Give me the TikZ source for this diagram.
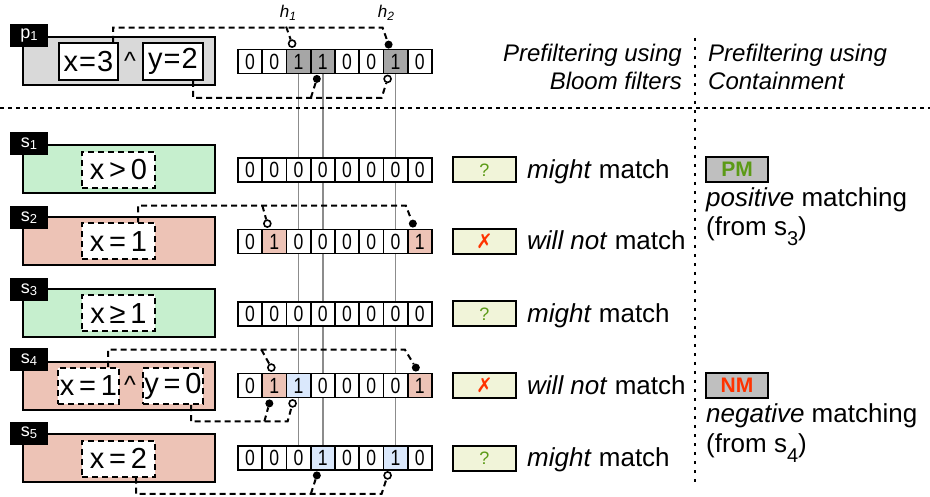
\documentclass[tikz,border=0pt]{standalone}
\usepackage{fontspec}
\setmainfont{Liberation Sans}
\newfontfamily\symbolfont{DejaVu Sans}
\usetikzlibrary{calc}
\pgfdeclarelayer{background}
\pgfsetlayers{background,main}

\definecolor{boxgreen}{HTML}{C6EFCE}
\definecolor{boxpink}{HTML}{EDC3B6}
\definecolor{boxgray}{HTML}{D9D9D9}
\definecolor{bitgray}{HTML}{A6A6A6}
\definecolor{bitblue}{HTML}{DAE8FC}
\definecolor{badgefill}{HTML}{F1F4D9}
\definecolor{statefill}{HTML}{BFBFBF}
\definecolor{okgreen}{HTML}{5B9A16}
\definecolor{nored}{HTML}{FF3300}
\definecolor{guide}{HTML}{8C8C8C}

\newcommand{\setsize}[1]{\fontsize{#1}{#1}\selectfont}
\newcommand{\tagsub}[1]{\raisebox{-2pt}{\setsize{13}#1}}
\newcommand{\txtsub}[1]{\raisebox{-10pt}{\setsize{20}#1}}
\newcommand{\hsub}[1]{\raisebox{-3pt}{\setsize{12}\itshape #1}}
\newcommand{\bitdigit}[1]{\scalebox{0.8}[1]{#1}}
\newcommand{\nomatch}{\textcolor{nored}{\symbolfont\setsize{20}✗}}

% one row of eight Bloom-filter bits: name, centre y, list of value/fill
\newcommand{\bitrow}[3]{%
  \foreach \v/\c [count=\i from 0] in {#3}
    \node[bit, fill=\c] (#1-\i) at ({250.125+24.25*\i}, #2) {\bitdigit{\v}};
}

\begin{document}
\begin{tikzpicture}[x=1pt, y=-1pt,
  mainbox/.style={draw, line width=2pt, minimum width=192pt, minimum height=48pt, inner sep=0pt},
  tagbox/.style={fill=black, text=white, minimum width=38pt, minimum height=23pt, inner sep=0pt, font=\setsize{18}},
  predsolid/.style={draw, line width=2pt, fill=white, minimum height=37pt, inner sep=0pt, font=\setsize{29}},
  pred/.style={draw, line width=2pt, dash pattern=on 6pt off 4pt, fill=white, minimum height=36pt, inner sep=0pt, font=\setsize{29}},
  andsym/.style={font=\setsize{25}, inner sep=0pt},
  bit/.style={draw, line width=1.8pt, minimum width=24.25pt, minimum height=24pt, inner sep=0pt, font=\setsize{22}},
  badge/.style={draw, line width=2pt, fill=badgefill, minimum width=63pt, minimum height=25pt, inner sep=0pt, font=\setsize{18}},
  state/.style={draw, line width=2pt, fill=statefill, minimum width=62pt, minimum height=25pt, inner sep=0pt, font=\setsize{21}\bfseries},
  result/.style={anchor=base west, inner sep=0pt, font=\setsize{26}},
  header/.style={inner sep=0pt, font=\setsize{24}\itshape},
  conn/.style={draw, line width=2pt, dash pattern=on 6pt off 4pt},
  hollow/.style={circle, draw, line width=1.6pt, fill=white, minimum size=7pt, inner sep=0pt},
  solid dot/.style={circle, fill=black, minimum size=8pt, inner sep=0pt},
  hashline/.style={draw=guide, line width=1.5pt},
  sep/.style={line width=2pt, dash pattern=on 4pt off 4pt},
  vsep/.style={line width=2.5pt, dash pattern=on 3pt off 6pt}
]
\useasboundingbox (0,0) rectangle (930,497);

% separators
\draw[sep] (0,108) -- (930,108);
\draw[vsep] (695,38) -- (695,484);

% column headings
\node[header, anchor=base east] (hb1) at (682,62) {Prefiltering using};
\node[header, anchor=base east] (hb2) at (682,90) {Bloom filters};
\node[header, anchor=base west] (hc1) at (708,62) {Prefiltering using};
\node[header, anchor=base west] (hc2) at (708,90) {Containment};

% ---------- publication p1 ----------
\node[mainbox, fill=boxgray] (P) at (119,61.5) {};
\node[tagbox] (Ptag) at (29,35.5) {p\tagsub{1}};
\node[predsolid, minimum width=59pt] (Px) at (88.5,61.5) {x\kern1pt=\kern1pt3};
\node[andsym] (Pand) at (130,61) {\textasciicircum};
\node[predsolid, minimum width=60pt] (Py) at (173,61.5) {y\kern1pt=\kern1pt2};
\bitrow{B}{61.5}{0/white,0/white,1/bitgray,1/bitgray,0/white,0/white,1/bitgray,0/white}
\node[inner sep=0pt, font=\setsize{17}\itshape] (h1) at (288,13) {h\hsub{1}};
\node[inner sep=0pt, font=\setsize{17}\itshape] (h2) at (386,13) {h\hsub{2}};

% ---------- subscriptions ----------
\node[mainbox, fill=boxgreen] (S1) at (119,169) {};
\node[tagbox] (S1tag) at (29,144) {s\tagsub{1}};
\node[pred, minimum width=73pt] (S1x) at (118.5,170) {x\,>\,0};
\bitrow{C1}{170}{0/white,0/white,0/white,0/white,0/white,0/white,0/white,0/white}

\node[mainbox, fill=boxpink] (S2) at (119,241.5) {};
\node[tagbox] (S2tag) at (29,217.5) {s\tagsub{2}};
\node[pred, minimum width=73pt] (S2x) at (118.5,241.5) {x\,=\,1};
\bitrow{C2}{241.5}{0/white,1/boxpink,0/white,0/white,0/white,0/white,0/white,1/boxpink}

\node[mainbox, fill=boxgreen] (S3) at (119,313.5) {};
\node[tagbox] (S3tag) at (29,290) {s\tagsub{3}};
\node[pred, minimum width=73pt] (S3x) at (118.5,313.5) {x\,≥\,1};
\bitrow{C3}{314}{0/white,0/white,0/white,0/white,0/white,0/white,0/white,0/white}

\node[mainbox, fill=boxpink] (S4) at (119,386) {};
\node[tagbox] (S4tag) at (29,360) {s\tagsub{4}};
\node[pred, minimum width=61pt] (S4x) at (88.5,386) {x\,=\,1};
\node[andsym] (S4and) at (130,385) {\textasciicircum};
\node[pred, minimum width=60pt] (S4y) at (173,386) {y\,=\,0};
\bitrow{C4}{385.5}{0/white,1/boxpink,1/bitblue,0/white,0/white,0/white,0/white,1/boxpink}

\node[mainbox, fill=boxpink] (S5) at (119,457.5) {};
\node[tagbox] (S5tag) at (29,433) {s\tagsub{5}};
\node[pred, minimum width=73pt] (S5x) at (118.5,458.5) {x\,=\,2};
\bitrow{C5}{458}{0/white,0/white,0/white,1/bitblue,0/white,0/white,1/bitblue,0/white}

% hash positions of p1 carried down through all filters
\begin{pgfonlayer}{background}
  \foreach \k in {2,3,6}
    \draw[hashline] (B-\k.south) -- (C5-\k.north);
\end{pgfonlayer}

% ---------- hash connectors ----------
% p1: x=3
\node[hollow] (dP2) at ($(B-2.north west)+(6.5,-5)$) {};
\node[solid dot] (dP6) at ($(B-6.north west)+(6,-4)$) {};
\draw[conn] ($(Px.north east)+(-6,0)$) |- ($(dP6)+(-6,-17)$) -- (dP6);
\draw[conn] ($(dP2)+(-6,-17)$) -- (dP2);
% p1: y=2
\node[solid dot] (dP3) at ($(B-3.south west)+(7,4.5)$) {};
\node[hollow] (dP6b) at ($(B-6.south west)+(5,4.5)$) {};
\draw[conn] ($(Py.south east)+(-11,0)$) |- ($(dP6b)+(-6,19)$) -- (dP6b);
\draw[conn] ($(dP3)+(-6,19)$) -- (dP3);

% s2: x=1
\node[hollow] (d21) at ($(C2-1.north west)+(6,-5)$) {};
\node[solid dot] (d27) at ($(C2-7.north west)+(6,-5)$) {};
\draw[conn] ($(S2x.north east)+(-18,0)$) |- ($(d27)+(-7,-18)$) -- (d27);
\draw[conn] ($(d21)+(-5,-18)$) -- (d21);

% s4: x=1
\node[hollow] (d41) at ($(C4-1.north west)+(10,-5)$) {};
\node[solid dot] (d47) at ($(C4-7.north west)+(9,-5)$) {};
\draw[conn] ($(S4x.north east)+(-12,0)$) |- ($(d47)+(-11,-18)$) -- (d47);
\draw[conn] ($(d41)+(-10,-18)$) -- (d41);
% s4: y=0
\node[solid dot] (d41b) at ($(C4-1.south west)+(8,5)$) {};
\node[hollow] (d42b) at ($(C4-2.south west)+(7,5)$) {};
\draw[conn] ($(S4y.south east)+(-13,0)$) |- ($(d42b)+(-5,18)$) -- (d42b);
\draw[conn] ($(d41b)+(-5,18)$) -- (d41b);

% s5: x=2
\node[solid dot] (d53) at ($(C5-3.south west)+(7,4.5)$) {};
\node[hollow] (d56) at ($(C5-6.south west)+(5,4.5)$) {};
\draw[conn] ($(S5x.south east)+(-20,0)$) |- ($(d56)+(-6,18.5)$) -- (d56);
\draw[conn] ($(d53)+(-6,18.5)$) -- (d53);

% ---------- Bloom filter verdicts ----------
\node[badge] (V1) at (484.5,170) {\textcolor{okgreen}{?}};
\node[result] (R1) at (527,178.5) {\textit{might} match};
\node[badge] (V2) at (484.5,241.5) {\nomatch};
\node[result] (R2) at (527,250) {\textit{will not} match};
\node[badge] (V3) at (484.5,314) {\textcolor{okgreen}{?}};
\node[result] (R3) at (527,322.5) {\textit{might} match};
\node[badge] (V4) at (484.5,385.5) {\nomatch};
\node[result] (R4) at (527,394) {\textit{will not} match};
\node[badge] (V5) at (484.5,458) {\textcolor{okgreen}{?}};
\node[result] (R5) at (527,466.5) {\textit{might} match};

% ---------- containment verdicts ----------
\node[state] (PM) at (737,169.5) {\textcolor{okgreen}{PM}};
\node[result] (PMa) at (706,207) {\textit{positive} matching};
\node[result] (PMb) at (706,236) {(from s\txtsub{3})};
\node[state] (NM) at (737,385.5) {\textcolor{nored}{NM}};
\node[result] (NMa) at (706,422) {\textit{negative} matching};
\node[result] (NMb) at (706,452) {(from s\txtsub{4})};
\end{tikzpicture}
\end{document}
